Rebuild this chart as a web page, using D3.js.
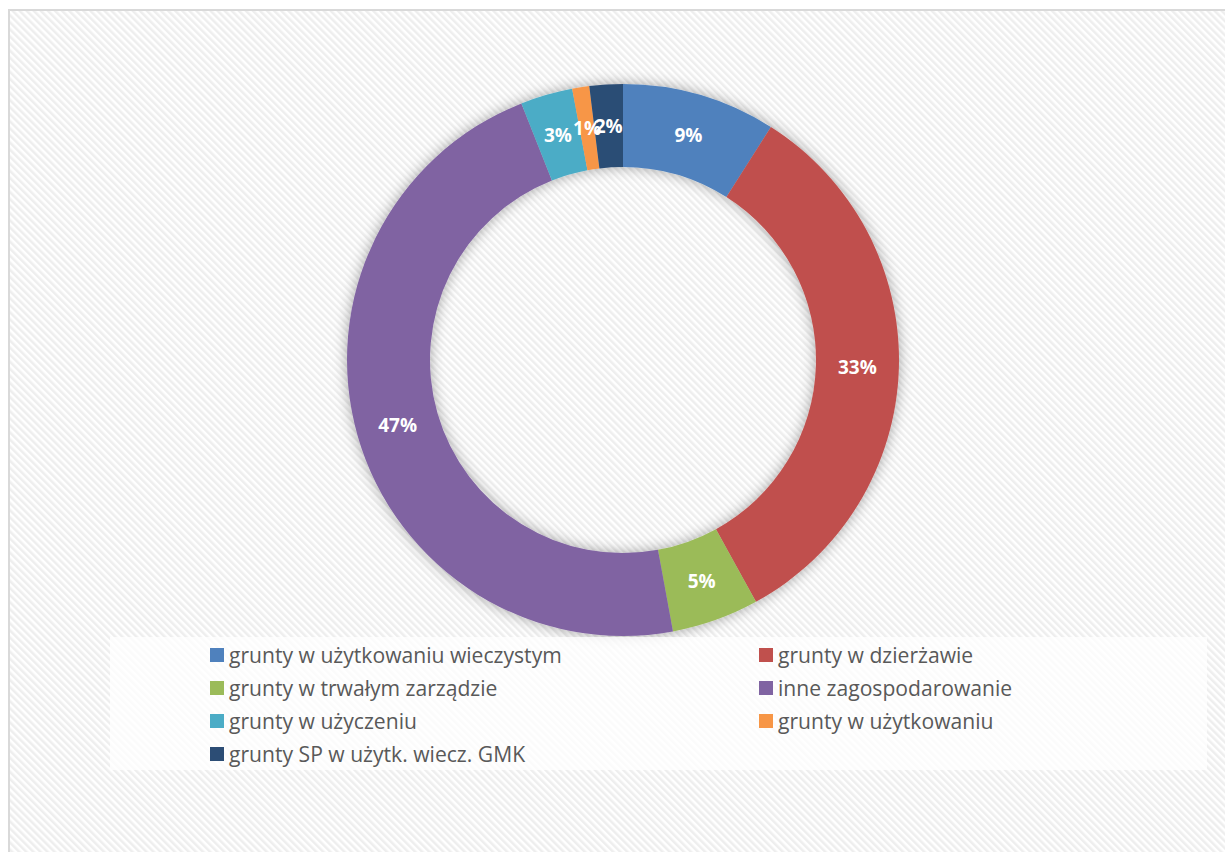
<!DOCTYPE html>
<html><head><meta charset="utf-8">
<script src="https://cdn.jsdelivr.net/npm/d3@7/dist/d3.min.js"></script>
<style>html,body{margin:0;padding:0;background:#fff;}svg{display:block;}</style>
</head><body>
<script>
const categories = ["grunty w użytkowaniu wieczystym","grunty w dzierżawie","grunty w trwałym zarządzie","inne zagospodarowanie","grunty w użyczeniu","grunty w użytkowaniu","grunty SP w użytk. wiecz. GMK"];
const values = [9.0, 33.0, 5.1, 46.9, 3.05, 1.0, 1.95];
const colors = ["#4f81bd","#c0504d","#9bbb59","#8064a2","#4bacc6","#f79646","#2c4d75"];

const W = 1225, H = 852;
const svg = d3.select("body").append("svg").attr("width", W).attr("height", H);
const defs = svg.append("defs");
const pat = defs.append("pattern").attr("id","hatch").attr("patternUnits","userSpaceOnUse")
  .attr("width",5).attr("height",5).attr("patternTransform","rotate(-45)");
pat.append("rect").attr("width",5).attr("height",5).attr("fill","#ffffff");
pat.append("rect").attr("width",2.5).attr("height",5).attr("fill","#eeeeee");

const f = defs.append("filter").attr("id","sh").attr("x","-20%").attr("y","-20%").attr("width","140%").attr("height","140%");
f.append("feGaussianBlur").attr("in","SourceAlpha").attr("stdDeviation",7).attr("result","b");
f.append("feFlood").attr("flood-color","#000").attr("flood-opacity",0.35);
f.append("feComposite").attr("in2","b").attr("operator","in").attr("result","s");
const fm = f.append("feMerge");
fm.append("feMergeNode").attr("in","s");
fm.append("feMergeNode").attr("in","SourceGraphic");

// frame
svg.append("rect").attr("x",9).attr("y",10).attr("width",W).attr("height",H).attr("fill","url(#hatch)")
  .attr("stroke","#d9d9d9").attr("stroke-width",2);

const cx = 623, cy = 360, rO = 276, rI = 193;
const pie = d3.pie().sort(null).value(d => d)(values);
const arc = d3.arc().innerRadius(rI).outerRadius(rO);
const labelArc = d3.arc().innerRadius((rI+rO)/2).outerRadius((rI+rO)/2);
const total = d3.sum(values);

const g = svg.append("g").attr("transform",`translate(${cx},${cy})`);
g.append("g").attr("filter","url(#sh)").selectAll("path").data(pie).join("path")
  .attr("d", arc).attr("fill",(d,i)=>colors[i]);

g.selectAll("text").data(pie).join("text")
  .attr("transform", d => `translate(${labelArc.centroid(d)})`)
  .attr("text-anchor","middle").attr("dy","0.36em")
  .attr("fill","#fff").attr("font-family","'Open Sans', sans-serif").attr("font-weight","bold")
  .attr("font-size",19)
  .text(d => Math.round(d.data/total*100) + "%");

// legend
svg.append("rect").attr("x",110).attr("y",637).attr("width",1097).attr("height",133)
  .attr("fill","#ffffff").attr("fill-opacity",0.75);
const colX = [210, 759], rowY = [663, 696, 729, 762];
const lg = svg.append("g").selectAll("g").data(categories).join("g")
  .attr("transform",(d,i)=>`translate(${colX[i%2]},${rowY[Math.floor(i/2)]})`);
lg.append("rect").attr("x",0).attr("y",-15).attr("width",14).attr("height",14).attr("fill",(d,i)=>colors[i]);
const lt = lg.append("text").attr("x",19).attr("y",0).attr("fill","#595959")
  .attr("font-family","'Open Sans', sans-serif").attr("font-size",20).text(d=>d);
const w0 = lt.nodes()[0].getComputedTextLength();
lt.attr("font-size", 20*333/w0);
</script>
</body></html>
